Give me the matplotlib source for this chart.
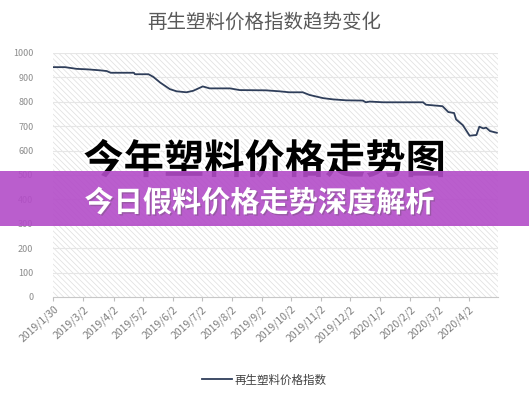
import matplotlib
matplotlib.use("Agg")
import matplotlib.pyplot as plt
import matplotlib.patheffects as pe
from matplotlib.patches import Rectangle
import pandas as pd

plt.rcParams['font.family'] = ['Noto Sans CJK SC', 'DejaVu Sans']
plt.rcParams['hatch.linewidth'] = 0.5
plt.rcParams['hatch.color'] = '#dedede'

# data (day offset from 2019/1/30, index value)
days = [0, 12, 24, 35, 48, 55, 59, 83, 84, 98, 103, 110, 120, 127, 137, 144,
        154, 161, 182, 192, 219, 233, 243, 257, 264, 278, 288, 302, 319, 322,
        326, 340, 381, 384, 401, 407, 413, 415, 422, 429, 436, 439, 443, 446,
        450, 457]
values = [942, 942, 935, 933, 929, 926, 919, 919, 913, 913, 902, 879, 852, 843,
          839, 845, 863, 855, 855, 848, 847, 843, 839, 839, 828, 815, 810, 806,
          805, 798, 801, 798, 798, 788, 782, 758, 754, 728, 704, 661, 664, 698,
          691, 694, 680, 673]
tick_labels = ['2019/1/30', '2019/3/2', '2019/4/2', '2019/5/2', '2019/6/2',
               '2019/7/2', '2019/8/2', '2019/9/2', '2019/10/2', '2019/11/2',
               '2019/12/2', '2020/1/2', '2020/2/2', '2020/3/2', '2020/4/2']
series_name = '再生塑料价格指数'
title = '再生塑料价格指数趋势变化'
overlay_big = '今年塑料价格走势图'
banner_text = '今日假料价格走势深度解析'

start = pd.Timestamp('2019-01-30')
dates = [start + pd.Timedelta(days=d) for d in days]
ticks = pd.to_datetime(tick_labels, format='%Y/%m/%d')

fig = plt.figure(figsize=(5.29, 4.0), dpi=100)
ax = fig.add_axes([0.100, 0.2575, 0.841, 0.61])

# hatched plot area
ax.add_patch(Rectangle((0, 0), 1, 1, transform=ax.transAxes, facecolor='white',
                       edgecolor='#dedede', hatch='\\\\\\\\\\\\', linewidth=0, zorder=0))
for v in range(100, 1001, 100):
    ax.axhline(v, color='#e6e6e6', linewidth=0.8, zorder=1)

line, = ax.plot(dates, values, color='#2f3e5a', linewidth=1.3, zorder=3, label=series_name)

ax.set_ylim(0, 1000)
ax.set_yticks(range(0, 1001, 100))
ax.set_xlim(start - pd.Timedelta(days=0.5), start + pd.Timedelta(days=458))
ax.set_xticks(ticks)
ax.set_xticklabels(tick_labels, rotation=42, ha='right', rotation_mode='anchor')
ax.tick_params(axis='x', colors='#bfbfbf', labelcolor='#7f7f7f', labelsize=7.5,
               length=3, width=0.8, pad=2)
ax.tick_params(axis='y', length=0, labelcolor='#8c8c8c', labelsize=6.5, pad=14)
for s in ['top', 'right', 'left']:
    ax.spines[s].set_visible(False)
ax.spines['bottom'].set_color('#c8c8c8')
ax.spines['bottom'].set_zorder(4)

fig.text(0.5, 0.945, title, ha='center', va='center', fontsize=14, color='#595959')

leg = fig.legend(handles=[line], loc='center', bbox_to_anchor=(0.5, 0.05), frameon=False,
                 fontsize=8.3, handlelength=2.6, handletextpad=0.2)
for t in leg.get_texts():
    t.set_color('#404040')

# overlay texts
fig.text(0.5, 0.595, overlay_big, ha='center', va='center', fontsize=29,
         fontweight='black', color='black', zorder=10,
         path_effects=[pe.withStroke(linewidth=3, foreground='white')])
fig.patches.append(Rectangle((0, 0.435), 1, 0.1375, transform=fig.transFigure,
                             facecolor='#b34cc8', alpha=0.9, linewidth=0, zorder=11))
fig.text(0.49, 0.493, banner_text, ha='center', va='center', fontsize=21,
         fontweight='bold', color='white', zorder=12,
         path_effects=[pe.withSimplePatchShadow(offset=(1, -1), alpha=0.3)])

fig.savefig('out.png', dpi=100)
